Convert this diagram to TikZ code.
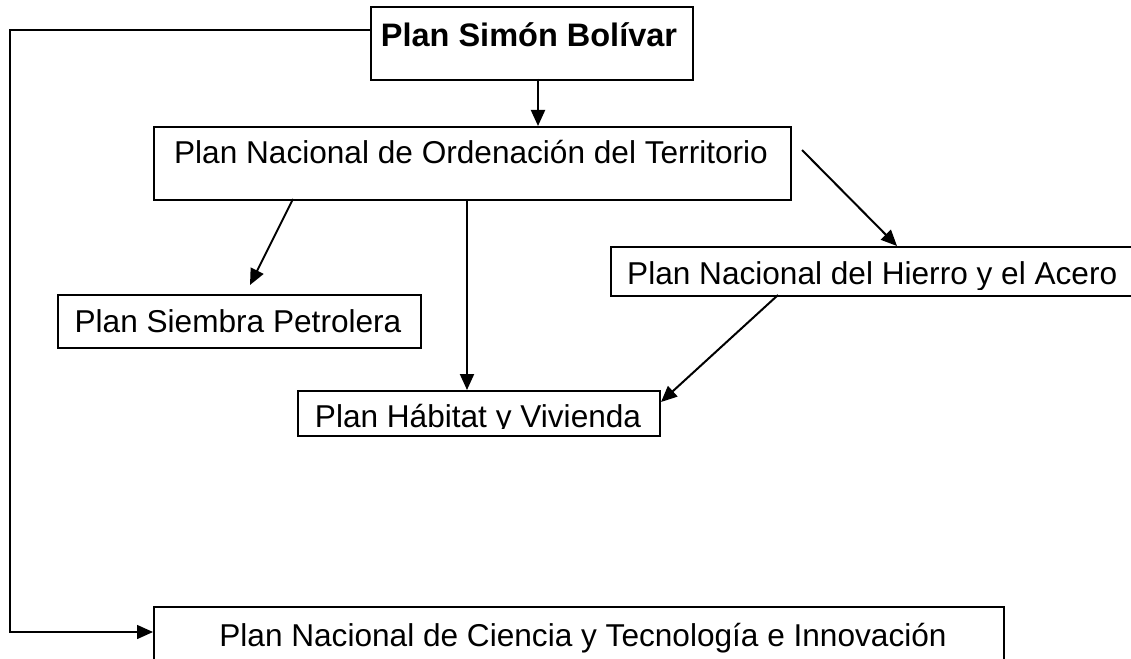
\documentclass[tikz,border=0pt]{standalone}
\usepackage{fontspec}
\setmainfont{Liberation Sans}
\usetikzlibrary{arrows.meta}
\begin{document}
\begin{tikzpicture}[x=1pt,y=-1pt,
  box/.style={draw,line width=2.3pt,inner sep=0pt,anchor=north west},
  lbl/.style={anchor=base,inner sep=0pt,font=\fontsize{31.6}{32}\selectfont},
  tip/.style={-{Triangle[length=16pt,width=14pt]}},
  arr/.style={line width=2pt,tip}]
\useasboundingbox (0,0) rectangle (1131,658);
\clip (0,0) rectangle (1131,658);
% boxes
\node[box,minimum width=322pt,minimum height=73pt] (simon) at (370,6) {};
\node[box,minimum width=637pt,minimum height=73pt] (orden) at (153,126) {};
\node[box,minimum width=560pt,minimum height=49pt] (hierro) at (610,246) {};
\node[box,minimum width=363pt,minimum height=53pt] (siembra) at (57,294) {};
\node[box,minimum width=362pt,minimum height=45pt] (habitat) at (297,390) {};
\node[box,minimum width=850pt,minimum height=80pt] (ciencia) at (153,606) {};
% labels
\node[lbl,font=\fontsize{32.5}{33}\selectfont\bfseries] (tsimon) at (529,47) {Plan Simón Bolívar};
\node[lbl] (torden) at (471,163) {Plan Nacional de Ordenación del Territorio};
\begin{scope}
  \clip (610,246) rectangle (1131,289);
  \node[lbl,anchor=base west] (thierro) at (627,284) {Plan Nacional del Hierro y el Acero};
\end{scope}
\node[lbl] (tsiembra) at (238,332) {Plan Siembra Petrolera};
\begin{scope}
  \clip (297,390) rectangle (659,428);
  \node[lbl] (thabitat) at (478,427) {Plan Hábitat y Vivienda};
\end{scope}
\node[lbl] (tciencia) at (583,646) {Plan Nacional de Ciencia y Tecnología e Innovación};
% connector end points
\coordinate (p1) at (538,79);
\coordinate (p2) at (293,199);
\coordinate (p3) at (250,285);
\coordinate (p4) at (467,199);
\coordinate (p5) at (802,150);
\coordinate (p6) at (897,246);
\coordinate (p7) at (778,295);
\coordinate (p8) at (661,402);
\coordinate (q1) at (370,30);
\coordinate (q2) at (10,30);
\coordinate (q3) at (10,632);
\coordinate (q4) at (153,632);
% connectors
\draw[arr] (p1) -- (p1 |- orden.north);
\draw[arr] (p2) -- (p3);
\draw[arr] (p4) -- (p4 |- habitat.north);
\draw[arr] (p5) -- (p6);
\draw[arr] (p7) -- (p8);
\draw[line width=1.5pt,tip] (q1) -- (q2) -- (q3) -- (q4);
\end{tikzpicture}
\end{document}
